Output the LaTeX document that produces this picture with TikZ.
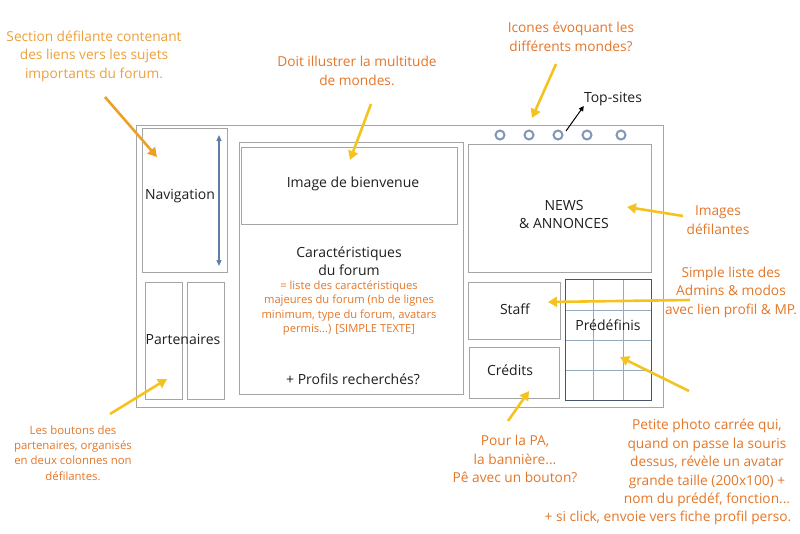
\documentclass[tikz,border=0pt]{standalone}
\usepackage{fontspec}
\setmainfont{Open Sans}
\usetikzlibrary{arrows.meta}
\definecolor{framec}{RGB}{165,165,165}
\definecolor{textc}{RGB}{30,30,30}
\definecolor{notec}{RGB}{228,118,40}
\definecolor{notel}{RGB}{236,160,60}
\definecolor{arrowy}{RGB}{245,195,30}
\definecolor{arrowo}{RGB}{236,160,40}
\definecolor{bluec}{RGB}{95,125,165}
\definecolor{circc}{RGB}{130,150,185}
\definecolor{gridc}{RGB}{150,170,190}
\definecolor{gridb}{RGB}{70,85,105}
\begin{document}
\begin{tikzpicture}[x=1pt,y=-1pt,
  box/.style={draw=framec,line width=1.1pt,inner sep=0pt,anchor=north west},
  lbl/.style={text=textc,font=\fontsize{14}{18}\selectfont,align=center,inner sep=0pt},
  note/.style={text=notec,font=\fontsize{13.7}{18.5}\selectfont,align=center,inner sep=0pt},
  smallnote/.style={text=notec,font=\fontsize{11.2}{14.6}\selectfont,align=center,inner sep=0pt},
  dot/.style={circle,draw=circc,line width=2pt,minimum size=9pt,inner sep=0pt},
  yarrow/.style={draw=arrowy,line width=2.6pt,-{Triangle[length=9pt,width=10pt]}},
  oarrow/.style={draw=arrowo,line width=2.6pt,-{Triangle[length=9pt,width=10pt]}}
]
\useasboundingbox (0,0) rectangle (800,533);
% frames
\node[box,minimum width=527pt,minimum height=282pt] (outer) at (136,125) {};
\node[box,minimum width=85pt,minimum height=144pt] (nav) at (142,128) {};
\node[box,minimum width=37pt,minimum height=117pt] (part1) at (145,282) {};
\node[box,minimum width=37pt,minimum height=117pt] (part2) at (187,282) {};
\node[box,minimum width=224pt,minimum height=252pt] (mid) at (239,142) {};
\node[box,minimum width=216pt,minimum height=77pt] (img) at (241,147) {};
\node[box,minimum width=183pt,minimum height=128pt] (news) at (468,144) {};
\node[box,minimum width=92pt,minimum height=57pt] (staff) at (468,282) {};
\node[box,minimum width=90pt,minimum height=51pt] (cred) at (469,347) {};
% predefinis grid
\draw[gridc,line width=0.8pt] (593,279) -- (593,400) (623,279) -- (623,400)
  (565,310) -- (651,310) (565,340) -- (651,340) (565,370) -- (651,370);
\node[draw=gridb,line width=1.2pt,inner sep=0pt,anchor=north west,minimum width=86pt,minimum height=121pt] (pred) at (565,279) {};
% blue scroll arrow
\coordinate (navtop) at (219,135);
\coordinate (navbot) at (219,266);
\draw[bluec,line width=1.3pt,{Triangle[length=6pt,width=5pt]}-{Triangle[length=6pt,width=5pt]}] (navtop) -- (navbot);
% circles
\node[dot] (c1) at (500,135) {};
\node[dot] (c2) at (529,135) {};
\node[dot] (c3) at (558,135) {};
\node[dot] (c4) at (587,135) {};
\node[dot] (c5) at (621,135) {};
% labels
\node[lbl] (navlbl) at (180,196) {Navigation};
\node[lbl] (partlbl) at (183,339) {Partenaires};
\node[lbl] (imglbl) at (353,184) {Image de bienvenue};
\node[lbl] (caraclbl) at (349,261) {Caractéristiques\\du forum};
\node[smallnote] (carnote) at (349,308) {= liste des caractéristiques\\majeures du forum (nb de lignes\\minimum, type du forum, avatars\\permis...) [SIMPLE TEXTE]};
\node[lbl] (proflbl) at (353,379) {+ Profils recherchés?};
\node[lbl] (newslbl) at (564,214) {NEWS\\\& ANNONCES};
\node[lbl] (stafflbl) at (515,309) {Staff};
\node[lbl] (credlbl) at (510,370) {Crédits};
\node[lbl] (predlbl) at (608,325) {Prédéfinis};
\node[lbl] (toplbl) at (613,99) {Top-sites};
\coordinate (tsstart) at (566,131);
\draw[black,line width=1pt,-{Triangle[length=5pt,width=5pt]}] (tsstart) -- (toplbl.south west);
% notes
\node[note,text=notel] (n1) at (94,56) {Section défilante contenant\\des liens vers les sujets\\importants du forum.};
\node[note] (n2) at (357,71) {Doit illustrer la multitude\\de mondes.};
\node[note] (n3) at (571,37) {Icones évoquant les\\différents mondes?};
\node[note] (n4) at (718,220) {Images\\défilantes};
\node[note] (n5) at (731,292) {Simple liste des\\Admins \& modos\\avec lien profil \& MP.};
\node[smallnote,font=\fontsize{11.4}{15.3}\selectfont] (n6) at (73,453) {Les boutons des\\partenaires, organisés\\en deux colonnes non\\défilantes.};
\node[note] (n7) at (515,459) {Pour la PA,\\la bannière...\\Pê avec un bouton?};
\node[note] (n8) at (707,463) {Petite photo carrée qui,\\quand on passe la souris\\dessus, révèle un avatar\\grande taille (200x100) +\\nom du prédéf, fonction...};
\node[note] (n8b) at (668,518) {+ si click, envoie vers fiche profil perso.};
% arrow endpoints
\coordinate (a1s) at (105,97);  \coordinate (a1e) at (157,157);
\coordinate (a2s) at (371,104); \coordinate (a2e) at (350,160);
\coordinate (a3s) at (556,64);  \coordinate (a3e) at (532,118);
\coordinate (a4s) at (683,216); \coordinate (a4e) at (627,207);
\coordinate (a5s) at (690,300); \coordinate (a5e) at (548,302);
\coordinate (a6s) at (110,414); \coordinate (a6e) at (167,379);
\coordinate (a7s) at (508,421); \coordinate (a7e) at (529,391);
\coordinate (a8s) at (689,391); \coordinate (a8e) at (620,357);
\draw[oarrow] (a1s) -- (a1e);
\draw[yarrow] (a2s) -- (a2e);
\draw[yarrow] (a3s) -- (a3e);
\draw[yarrow] (a4s) -- (a4e);
\draw[yarrow] (a5s) -- (a5e);
\draw[yarrow] (a6s) -- (a6e);
\draw[yarrow] (a7s) -- (a7e);
\draw[yarrow] (a8s) -- (a8e);
\end{tikzpicture}
\end{document}
